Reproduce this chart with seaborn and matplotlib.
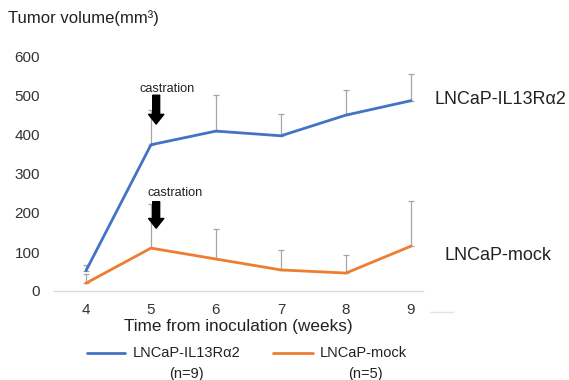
import matplotlib
matplotlib.use("Agg")
import matplotlib.pyplot as plt
from matplotlib.lines import Line2D
import seaborn as sns
import pandas as pd
import numpy as np

# data
weeks = [4, 5, 6, 7, 8, 9]
il13 = [52, 375, 410, 398, 451, 488]
il13_err = [14, 90, 92, 56, 64, 68]     # upper error only
mock = [20, 110, 82, 54, 46, 115]
mock_err = [23, 112, 76, 51, 46, 115]
yticks = [0, 100, 200, 300, 400, 500, 600]

blue = "#4472C4"
orange = "#ED7D31"

df = pd.DataFrame({
    "week": weeks * 2,
    "volume": il13 + mock,
    "group": ["LNCaP-IL13Rα2"] * 6 + ["LNCaP-mock"] * 6,
})

sns.set_style("white")
plt.rcParams["font.family"] = ["Liberation Sans", "DejaVu Sans"]

fig = plt.figure(figsize=(5.69, 3.80), dpi=100)
ax = fig.add_axes([54 / 569, 89 / 380, 369 / 569, 234 / 380])

# error bars (upper only), behind the lines
ax.errorbar(weeks, il13, yerr=[np.zeros(6), il13_err], fmt="none",
            ecolor="#a6a6a6", elinewidth=0.9, capsize=2, capthick=0.9, zorder=1)
ax.errorbar(weeks, mock, yerr=[np.zeros(6), mock_err], fmt="none",
            ecolor="#a6a6a6", elinewidth=0.9, capsize=2, capthick=0.9, zorder=1)

sns.lineplot(data=df, x="week", y="volume", hue="group",
             palette=[blue, orange], linewidth=2, legend=False, ax=ax, zorder=3)

ax.set_xlim(3.508, 9.185)
ax.set_ylim(0, 600)
ax.set_yticks(yticks)
ax.set_xticks(weeks)
ax.tick_params(axis="both", length=0, labelsize=11, labelcolor="#333333")
ax.tick_params(axis="y", pad=10)
ax.tick_params(axis="x", pad=9)
for s in ["top", "right", "left"]:
    ax.spines[s].set_visible(False)
ax.spines["bottom"].set_color("#d9d9d9")
ax.spines["bottom"].set_linewidth(1)
ax.set_ylabel("")
ax.set_xlabel("Time from inoculation (weeks)", fontsize=12.3, color="#222222", labelpad=1)

# castration arrows
arrow = dict(facecolor="black", edgecolor="black", width=5, headwidth=11, headlength=7)
ax.annotate("", xy=(5.08, 428), xytext=(5.08, 502), arrowprops=arrow)
ax.annotate("", xy=(5.08, 161), xytext=(5.08, 229), arrowprops=arrow)
ax.text(4.83, 518, "castration", fontsize=9.2, color="#222222", va="center")
ax.text(4.94, 250, "castration", fontsize=9.2, color="#222222", va="center")

# titles / labels
fig.text(8 / 569, 1 - 18 / 380, "Tumor volume(mm³)", fontsize=12, color="#222222", va="center")
fig.text(434 / 569, 1 - 100 / 380, "LNCaP-IL13Rα2", fontsize=12.9, color="#222222", va="center")
fig.text(445 / 569, 1 - 255 / 380, "LNCaP-mock", fontsize=13, color="#222222", va="center")

# legend drawn below the axis
ly = 1 - 353 / 380
fig.add_artist(Line2D([87 / 569, 125 / 569], [ly, ly], color=blue, lw=2))
fig.text(133 / 569, ly, "LNCaP-IL13Rα2", fontsize=10.5, color="#222222", va="center")
fig.text(186 / 569, 1 - 374 / 380, "(n=9)", fontsize=10.5, color="#222222", va="center", ha="center")
fig.add_artist(Line2D([273 / 569, 313 / 569], [ly, ly], color=orange, lw=2))
fig.text(320 / 569, ly, "LNCaP-mock", fontsize=10.5, color="#222222", va="center")
fig.text(365 / 569, 1 - 374 / 380, "(n=5)", fontsize=10.5, color="#222222", va="center", ha="center")

# small stray gray segment at the right of the axis
fig.add_artist(Line2D([430 / 569, 453 / 569], [1 - 312 / 380] * 2, color="#e3e3e3", lw=1))

fig.savefig("out.png", dpi=100)
